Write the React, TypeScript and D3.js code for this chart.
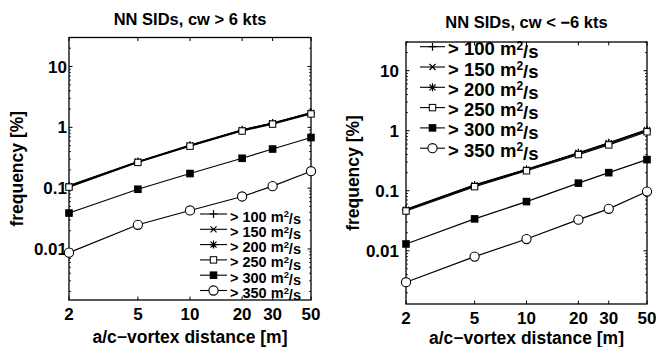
import React from 'react';
import * as d3 from 'd3';

// distances on x, values in percent
const distances = [2, 5, 10, 20, 30, 50];
const xTickLabels = ['2', '5', '10', '20', '30', '50'];
const yTicks = [0.01, 0.1, 1, 10];
const yTickLabels = ['0.01', '0.1', '1', '10'];
const thresholds = ['100', '150', '200', '250', '300', '350'];
const markerKinds = ['plus', 'cross', 'star', 'squareOpen', 'squareFilled', 'circle'];

// cw > 6 kts
const pos100 = [0.11, 0.275, 0.51, 0.91, 1.18, 1.75];
const pos150 = [0.108, 0.272, 0.5, 0.9, 1.17, 1.72];
const pos200 = [0.107, 0.27, 0.5, 0.89, 1.16, 1.7];
const pos250 = [0.104, 0.265, 0.49, 0.87, 1.13, 1.66];
const pos300 = [0.039, 0.096, 0.174, 0.31, 0.44, 0.68];
const pos350 = [0.0087, 0.025, 0.043, 0.073, 0.108, 0.19];

// cw < -6 kts
const neg100 = [0.049, 0.125, 0.228, 0.43, 0.63, 1.04];
const neg150 = [0.048, 0.123, 0.225, 0.425, 0.62, 1.02];
const neg200 = [0.048, 0.122, 0.222, 0.42, 0.61, 1.0];
const neg250 = [0.046, 0.117, 0.215, 0.4, 0.58, 0.96];
const neg300 = [0.013, 0.034, 0.066, 0.134, 0.2, 0.33];
const neg350 = [0.003, 0.008, 0.0157, 0.033, 0.05, 0.097];

const FONT = '"Liberation Sans", Arial, Helvetica, sans-serif';

function Marker({ kind, x, y }) {
    switch (kind) {
        case 'plus':
            return <path d={`M${x - 4},${y}H${x + 4}M${x},${y - 4}V${y + 4}`} stroke="#000" strokeWidth={1.2} />;
        case 'cross':
            return <path d={`M${x - 3},${y - 3}L${x + 3},${y + 3}M${x - 3},${y + 3}L${x + 3},${y - 3}`} stroke="#000" strokeWidth={1.2} />;
        case 'star':
            return <path d={`M${x - 4},${y}H${x + 4}M${x},${y - 4}V${y + 4}M${x - 3},${y - 3}L${x + 3},${y + 3}M${x - 3},${y + 3}L${x + 3},${y - 3}`} stroke="#000" strokeWidth={1.2} />;
        case 'squareOpen':
            return <rect x={x - 3.2} y={y - 3.2} width={6.4} height={6.4} fill="#fff" stroke="#000" strokeWidth={1} />;
        case 'squareFilled':
            return <rect x={x - 3.8} y={y - 3.8} width={7.6} height={7.6} fill="#000" />;
        default:
            return <circle cx={x} cy={y} r={4.6} fill="#fff" stroke="#000" strokeWidth={1.1} />;
    }
}

function Panel({ p }) {
    const x = d3.scaleLog().domain([2, 50]).range([p.x0, p.x1]);
    const y = d3.scaleLog().domain(p.yDomain).range([p.y1, p.y0]);
    const line = d3.line<number>().x((d, i) => x(distances[i])).y(d => y(d));

    const minor: number[] = [];
    [0.001, 0.01, 0.1, 1, 10].forEach(dec => {
        for (let k = 2; k <= 9; k++) {
            const v = dec * k;
            if (v >= p.yDomain[0] && v <= p.yDomain[1]) minor.push(v);
        }
    });

    const cx = (p.x0 + p.x1) / 2;
    const cy = (p.y0 + p.y1) / 2;
    const lg = p.legend;

    return (
        <g fontFamily={FONT} fontWeight="bold" fill="#000">
            <text x={cx} y={p.titleY} textAnchor="middle" fontSize={16.5}>{p.title}</text>

            {/* ticks */}
            {distances.map(d => (
                <g key={'xt' + d}>
                    <line x1={x(d)} x2={x(d)} y1={p.y1} y2={p.y1 - 3.5} stroke="#000" />
                    <line x1={x(d)} x2={x(d)} y1={p.y0} y2={p.y0 + 3.5} stroke="#000" />
                </g>
            ))}
            {yTicks.map(v => (
                <g key={'yt' + v}>
                    <line x1={p.x0} x2={p.x0 + 3.5} y1={y(v)} y2={y(v)} stroke="#000" />
                    <line x1={p.x1} x2={p.x1 - 3.5} y1={y(v)} y2={y(v)} stroke="#000" />
                </g>
            ))}
            {minor.map(v => (
                <g key={'ym' + v}>
                    <line x1={p.x0} x2={p.x0 + 2} y1={y(v)} y2={y(v)} stroke="#000" strokeWidth={0.8} />
                    <line x1={p.x1} x2={p.x1 - 2} y1={y(v)} y2={y(v)} stroke="#000" strokeWidth={0.8} />
                </g>
            ))}
            <rect x={p.x0} y={p.y0} width={p.x1 - p.x0} height={p.y1 - p.y0} fill="none" stroke="#000" strokeWidth={1.3} />

            {distances.map((d, i) => (
                <text key={'xl' + d} x={x(d)} y={p.y1 + 20} textAnchor="middle" fontSize={17}>{xTickLabels[i]}</text>
            ))}
            {yTicks.map((v, i) => (
                <text key={'yl' + v} x={p.x0 - p.yLabelGap} y={y(v)} dy="0.36em" textAnchor="end" fontSize={17}>{yTickLabels[i]}</text>
            ))}

            <text x={cx} y={p.xTitleY} textAnchor="middle" fontSize={17.5}>a/c−vortex distance [m]</text>
            <text transform={`translate(${p.yTitleX},${cy}) rotate(-90)`} textAnchor="middle" fontSize={17.5}>frequency [%]</text>

            {/* series */}
            {p.series.map((s, si) => (
                <g key={'s' + si}>
                    <path d={line(s) || ''} fill="none" stroke="#000" strokeWidth={1.2} />
                    {s.map((v, i) => <Marker key={i} kind={markerKinds[si]} x={x(distances[i])} y={y(v)} />)}
                </g>
            ))}

            {/* legend */}
            {thresholds.map((t, i) => {
                const ly = lg.y + i * lg.dy;
                return (
                    <g key={'lg' + t}>
                        <line x1={lg.x} x2={lg.x + lg.len} y1={ly} y2={ly} stroke="#000" strokeWidth={1.1} />
                        <Marker kind={markerKinds[i]} x={lg.x + lg.len / 2} y={ly} />
                        <text x={lg.x + lg.len + 3} y={ly + lg.base} fontSize={lg.font}>
                            {'> ' + t + ' m'}
                            <tspan dy="-0.45em" fontSize={lg.font * 0.65}>2</tspan>
                            <tspan dy="0.45em">/s</tspan>
                        </text>
                    </g>
                );
            })}
        </g>
    );
}

const panels = [
    {
        title: 'NN SIDs, cw > 6 kts', titleY: 24.5,
        x0: 69, x1: 311, y0: 37.5, y1: 300, yDomain: [0.00145, 30],
        yLabelGap: 2, yTitleX: 23, xTitleY: 342.5,
        series: [pos100, pos150, pos200, pos250, pos300, pos350],
        legend: { x: 200, y: 214, dy: 15.3, len: 27, font: 14.5, base: 7.5 },
    },
    {
        title: 'NN SIDs, cw < −6 kts', titleY: 27.5,
        x0: 406, x1: 647, y0: 42, y1: 304, yDomain: [0.0013, 30],
        yLabelGap: 7, yTitleX: 359, xTitleY: 343.5,
        series: [neg100, neg150, neg200, neg250, neg300, neg350],
        legend: { x: 420, y: 46.7, dy: 20.3, len: 25, font: 18.5, base: 8.5 },
    },
];

export default function App() {
    return (
        <svg width={656} height={347} style={{ position: 'absolute', left: 0, top: 0, background: '#fff' }}>
            <rect width={656} height={347} fill="#fff" />
            {panels.map((p, i) => <Panel key={i} p={p} />)}
        </svg>
    );
}
